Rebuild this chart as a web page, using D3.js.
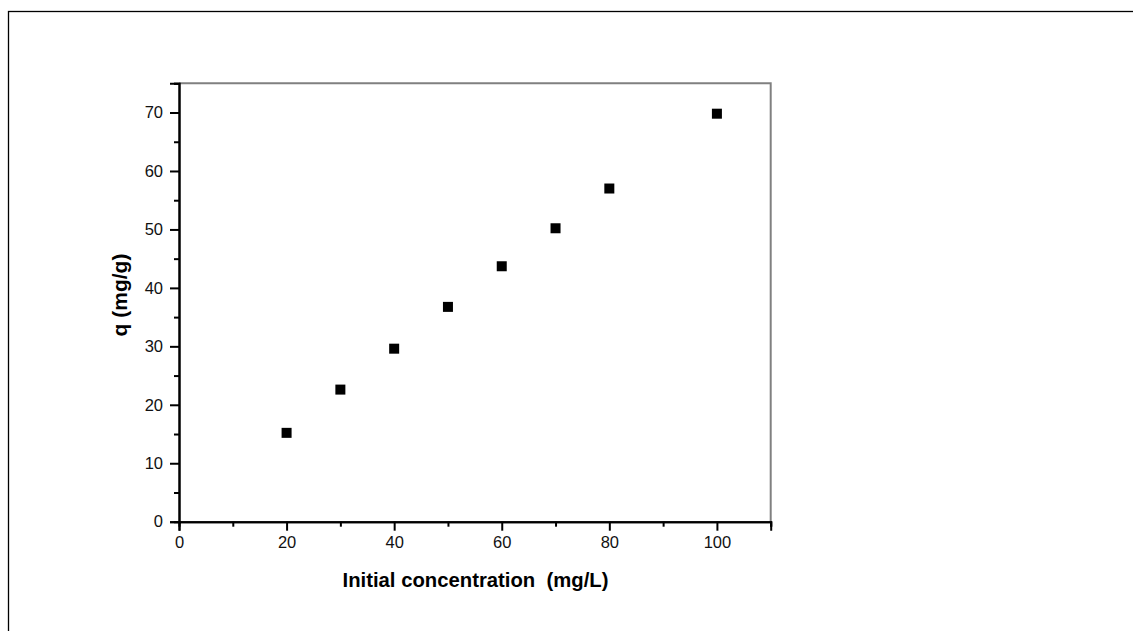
<!DOCTYPE html>
<html>
<head>
<meta charset="utf-8">
<script src="https://cdn.jsdelivr.net/npm/d3@7"></script>
<style>
  html, body { margin: 0; padding: 0; background: #fff; }
  svg { display: block; }
  text { font-family: "Liberation Sans", Arial, sans-serif; }
</style>
</head>
<body>
<svg id="chart" width="1133" height="631"></svg>
<script>
// Data
const concentration = [20, 30, 40, 50, 60, 70, 80, 100];
const uptake = [15.2, 22.6, 29.6, 36.75, 43.7, 50.2, 57.0, 69.8];
const xMajorTicks = [0, 20, 40, 60, 80, 100];
const xMinorTicks = [10, 30, 50, 70, 90, 110];
const yMajorTicks = [0, 10, 20, 30, 40, 50, 60, 70];
const yMinorTicks = [5, 15, 25, 35, 45, 55, 65, 75];
const xTitle = "Initial concentration\u00a0\u00a0(mg/L)";
const yTitle = "q (mg/g)";

const svg = d3.select("#chart");
const plotLeft = 179, plotRight = 770.7, plotTop = 83.3, plotBottom = 521.7;

const x = d3.scaleLinear().domain([0, 110]).range([plotLeft, plotRight]);
const y = d3.scaleLinear().domain([0, 75]).range([plotBottom, plotTop]);

// outer frame
svg.append("rect")
  .attr("x", 8.5).attr("y", 11.5)
  .attr("width", 1300).attr("height", 800)
  .attr("fill", "none").attr("stroke", "#000").attr("stroke-width", 1.3);

// top and right borders (gray)
svg.append("path")
  .attr("d", `M${plotLeft},${plotTop}H${plotRight}V${plotBottom}`)
  .attr("fill", "none").attr("stroke", "#808080").attr("stroke-width", 2);

function styleAxis(g) {
  g.select(".domain").attr("stroke", "#000").attr("stroke-width", 2);
  g.selectAll(".tick line").attr("stroke", "#000").attr("stroke-width", 2);
  g.selectAll(".tick text").attr("fill", "#111").style("font-size", "16.5px")
    .style("font-family", '"Liberation Sans", Arial, sans-serif');
}

// x axis
const gxMinor = svg.append("g").attr("transform", `translate(0,${plotBottom})`)
  .call(d3.axisBottom(x).tickValues(xMinorTicks).tickSize(5).tickFormat(""));
styleAxis(gxMinor);
const gx = svg.append("g").attr("transform", `translate(0,${plotBottom})`)
  .call(d3.axisBottom(x).tickValues(xMajorTicks).tickSize(9).tickPadding(6).tickFormat(d3.format("d")));
styleAxis(gx);

// y axis
const gyMinor = svg.append("g").attr("transform", `translate(${plotLeft},0)`)
  .call(d3.axisLeft(y).tickValues(yMinorTicks).tickSize(5).tickFormat(""));
styleAxis(gyMinor);
const gy = svg.append("g").attr("transform", `translate(${plotLeft},0)`)
  .call(d3.axisLeft(y).tickValues(yMajorTicks).tickSize(9).tickPadding(7).tickFormat(d3.format("d")));
styleAxis(gy);

// points
const s = 10;
svg.append("g").selectAll("rect")
  .data(concentration.map((c, i) => [c, uptake[i]]))
  .join("rect")
  .attr("x", d => x(d[0]) - s / 2)
  .attr("y", d => y(d[1]) - s / 2)
  .attr("width", s).attr("height", s)
  .attr("fill", "#000");

// titles
svg.append("text")
  .attr("x", 475.5).attr("y", 587)
  .attr("text-anchor", "middle")
  .style("font-size", "20.3px").style("font-weight", "bold")
  .attr("fill", "#000")
  .text(xTitle);

svg.append("text")
  .attr("transform", `translate(127,295) rotate(-90)`)
  .attr("text-anchor", "middle")
  .style("font-size", "21px").style("font-weight", "bold")
  .attr("fill", "#000")
  .text(yTitle);
</script>
</body>
</html>
